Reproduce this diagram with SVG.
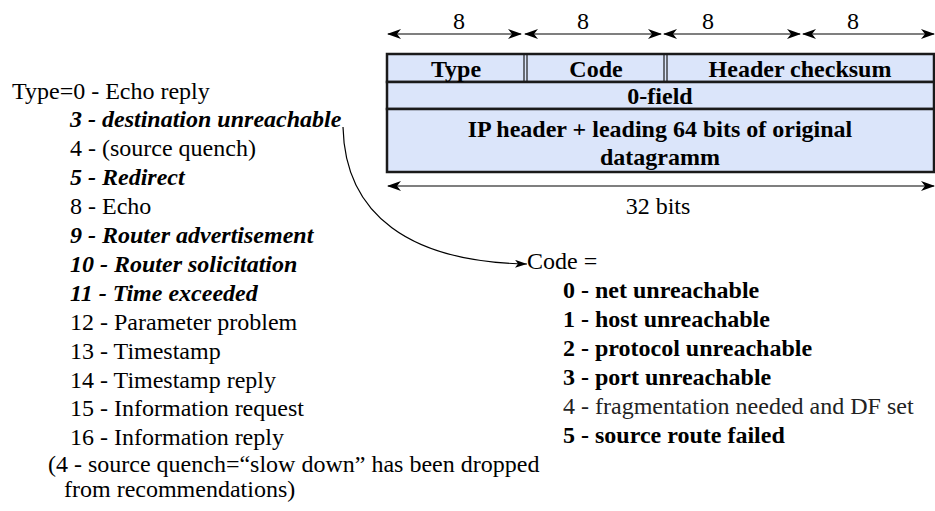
<svg xmlns="http://www.w3.org/2000/svg" width="935" height="511" viewBox="0 0 935 511">
<defs>
<marker id="ah" viewBox="0 0 14 10" refX="13" refY="5" markerWidth="14" markerHeight="10" markerUnits="userSpaceOnUse" orient="auto-start-reverse">
<path d="M0,0 L14,5 L0,10 L4,5 Z" fill="#000"/>
</marker>
<marker id="ah2" viewBox="0 0 12 8" refX="12" refY="4" markerWidth="12" markerHeight="8" markerUnits="userSpaceOnUse" orient="auto">
<path d="M0,0 L12,4 L0,8 L3,4 Z" fill="#000"/>
</marker>
<style>
text{font-family:"Liberation Serif","Times New Roman",serif;font-size:24px;fill:#000}
.b{font-weight:bold}
.bi{font-weight:bold;font-style:italic}
.c{text-anchor:middle}
.cell{fill:#dbe5fa;stroke:#1a1a1a;stroke-width:2.5}
.dl{stroke:#1a1a1a;stroke-width:1.2}
.ar{stroke:#000;stroke-width:1.2;fill:none}
</style>
</defs>
<g id="table">
<rect class="cell" x="387" y="54" width="547" height="28"/>
<rect class="cell" x="387" y="82" width="547" height="27"/>
<rect class="cell" x="387" y="109" width="547" height="63"/>
<line class="dl" x1="524" y1="54" x2="524" y2="82"/>
<line class="dl" x1="527" y1="54" x2="527" y2="82"/>
<line class="dl" x1="664" y1="54" x2="664" y2="82"/>
<line class="dl" x1="667" y1="54" x2="667" y2="82"/>
<text class="b c" x="456" y="77">Type</text>
<text class="b c" x="596" y="77">Code</text>
<text class="b c" x="800" y="77">Header checksum</text>
<text class="b c" x="660" y="104">0-field</text>
<text class="b c" x="660" y="137">IP header + leading 64 bits of original</text>
<text class="b c" x="660" y="165">datagramm</text>
</g>

<g id="bit-widths">
<text class="c" x="459" y="29">8</text>
<text class="c" x="583" y="29">8</text>
<text class="c" x="708" y="29">8</text>
<text class="c" x="853" y="29">8</text>
<text class="c" x="658" y="214">32 bits</text>
</g>

<g id="type-list">
<text x="12" y="98.5">Type=0 - Echo reply</text>
<text class="bi" x="70" y="127.4">3 - destination unreachable</text>
<text x="70" y="156.3">4 - (source quench)</text>
<text class="bi" x="70" y="185.2">5 - Redirect</text>
<text x="70" y="214.1">8 - Echo</text>
<text class="bi" x="70" y="243">9 - Router advertisement</text>
<text class="bi" x="70" y="271.9">10 - Router solicitation</text>
<text class="bi" x="70" y="300.8">11 - Time exceeded</text>
<text x="70" y="329.7">12 - Parameter problem</text>
<text x="70" y="358.6">13 - Timestamp</text>
<text x="70" y="387.5">14 - Timestamp reply</text>
<text x="70" y="416.4">15 - Information request</text>
<text x="70" y="445.3">16 - Information reply</text>
<text x="48" y="472">(4 - source quench=“slow down” has been dropped</text>
<text x="64" y="497">from recommendations)</text>
</g>

<g id="code-list">
<text x="527" y="269">Code =</text>
<text class="b" x="563" y="298">0 - net unreachable</text>
<text class="b" x="563" y="327">1 - host unreachable</text>
<text class="b" x="563" y="356">2 - protocol unreachable</text>
<text class="b" x="563" y="385">3 - port unreachable</text>
<text x="563" y="414" style="fill:#222">4 - fragmentation needed and DF set</text>
<text class="b" x="563" y="443">5 - source route failed</text>
</g>

<g id="connectors">
<line class="ar" x1="388" y1="34" x2="521" y2="34" marker-start="url(#ah)" marker-end="url(#ah)"/>
<line class="ar" x1="525" y1="34" x2="661" y2="34" marker-start="url(#ah)" marker-end="url(#ah)"/>
<line class="ar" x1="664" y1="34" x2="800" y2="34" marker-start="url(#ah)" marker-end="url(#ah)"/>
<line class="ar" x1="803" y1="34" x2="934" y2="34" marker-start="url(#ah)" marker-end="url(#ah)"/>
<line class="ar" x1="388" y1="186" x2="934" y2="186" marker-start="url(#ah)" marker-end="url(#ah)"/>
<path class="ar" d="M343,127 C345,215 410,262 527,264" marker-end="url(#ah2)"/>
</g>
</svg>
